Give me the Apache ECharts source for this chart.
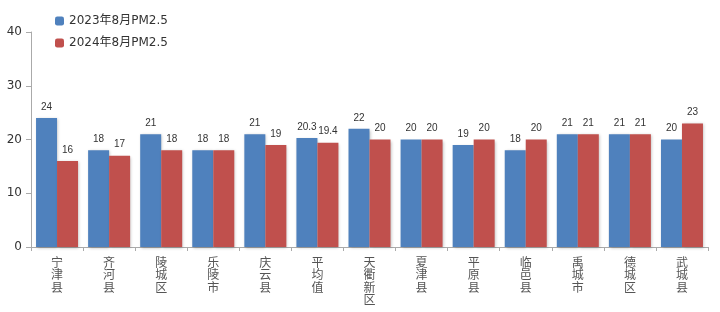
<!DOCTYPE html>
<html><head><meta charset="utf-8">
<script src="https://cdn.jsdelivr.net/npm/echarts@6/dist/echarts.min.js"></script>
<style>html,body{margin:0;padding:0;background:#fff}#c{width:720px;height:312px}</style>
</head><body><div id="c"></div>
<script>
const categories = ['宁津县','齐河县','陵城区','乐陵市','庆云县','平均值','天衢新区','夏津县','平原县','临邑县','禹城市','德城区','武城县'];
const series2023 = [24,18,21,18,21,20.3,22,20,19,18,21,21,20];
const series2024 = [16,17,18,18,19,19.4,20,20,20,20,21,21,23];
const seriesNames = ['2023年8月PM2.5','2024年8月PM2.5'];
const yTicks = [0,10,20,30,40];

const chart = echarts.init(document.getElementById('c'));
const lbl = {show:true,position:'top',fontSize:10,color:'#333',fontFamily:'Liberation Sans',distance:6};
chart.setOption({
  animation:false,
  legend:{left:50,top:10,orient:'vertical',itemWidth:9,itemHeight:9,itemGap:10,
    textStyle:{fontSize:12,color:'#333',fontFamily:'DejaVu Sans, Noto Sans CJK SC'},
    data:seriesNames},
  grid:{left:31,right:12,top:32,bottom:65,outerBoundsMode:'none'},
  xAxis:{type:'category',data:categories,
    axisLine:{lineStyle:{color:'#aaa'}},
    axisTick:{show:true,length:4,lineStyle:{color:'#aaa'}},
    axisLabel:{fontSize:12,color:'#555',lineHeight:12.5,margin:9,fontFamily:'Noto Sans CJK SC',
      formatter:v=>v.split('').join('\n')}},
  yAxis:{type:'value',min:0,max:40,interval:10,
    axisLine:{show:true,lineStyle:{color:'#aaa'}},
    axisTick:{show:true,inside:false,length:5,lineStyle:{color:'#aaa'}},
    splitLine:{show:false},
    axisLabel:{fontSize:12,color:'#333',fontFamily:'DejaVu Sans',margin:9}},
  series:[
    {name:seriesNames[0],type:'bar',data:series2023,barWidth:21,barGap:'0%',
      itemStyle:{color:'#4F81BD',shadowColor:'rgba(0,0,0,0.25)',shadowBlur:3,shadowOffsetX:1,shadowOffsetY:1},
      label:lbl},
    {name:seriesNames[1],type:'bar',data:series2024,barWidth:21,
      itemStyle:{color:'#C0504D',shadowColor:'rgba(0,0,0,0.25)',shadowBlur:3,shadowOffsetX:1,shadowOffsetY:1},
      label:lbl}
  ]
});
</script></body></html>
